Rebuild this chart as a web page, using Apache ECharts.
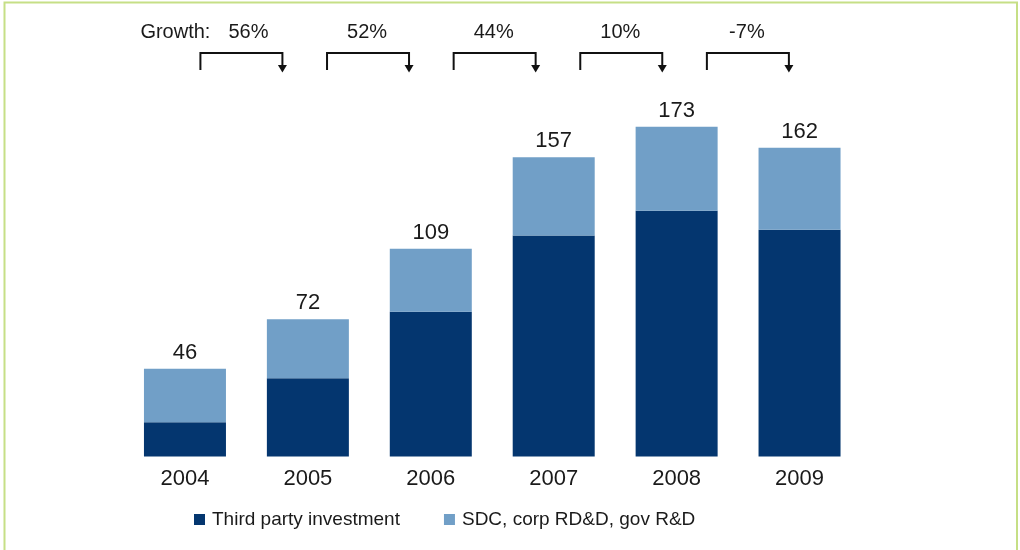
<!DOCTYPE html>
<html>
<head>
<meta charset="utf-8">
<script src="https://cdn.jsdelivr.net/npm/echarts@6/dist/echarts.min.js"></script>
<style>
html,body{margin:0;padding:0;background:#fff;}
#chart{width:1020px;height:550px;}
</style>
</head>
<body>
<div id="chart"></div>
<script>
var categories = ['2004', '2005', '2006', '2007', '2008', '2009'];
var thirdParty = [18, 41, 76, 116, 129, 119];
var sdcCorpGov = [28, 31, 33, 41, 44, 43];
var totals = [46, 72, 109, 157, 173, 162];
var growthLabels = ['56%', '52%', '44%', '10%', '-7%'];
var seriesNames = ['Third party investment', 'SDC, corp RD&D, gov R&D'];

var FONT = '"Liberation Sans", Arial, sans-serif';
var TEXT = '#1a1a1a';

var chart = echarts.init(document.getElementById('chart'), null, {renderer: 'canvas'});

var option = {
  backgroundColor: '#fff',
  animation: false,
  grid: {left: 123.5, width: 737.5, top: 113.5, bottom: 93.5},
  legend: {
    left: 194, top: 510, padding: 0,
    icon: 'rect', itemWidth: 11, itemHeight: 11, itemGap: 44,
    textStyle: {fontFamily: FONT, fontSize: 19, color: TEXT, padding: [0, 0, 0, 2]},
    data: seriesNames
  },
  xAxis: {
    type: 'category', data: categories,
    axisLine: {show: false}, axisTick: {show: false},
    axisLabel: {fontFamily: FONT, fontSize: 22, color: TEXT, margin: 11}
  },
  yAxis: {
    type: 'value', min: 0, max: 180,
    show: false, splitLine: {show: false}
  },
  series: [
    {
      name: seriesNames[0], type: 'bar', stack: 't', barWidth: 82,
      itemStyle: {color: '#04366f'},
      data: thirdParty
    },
    {
      name: seriesNames[1], type: 'bar', stack: 't', barWidth: 82,
      itemStyle: {color: '#719fc7'},
      label: {
        show: true, position: 'top', distance: 5,
        fontFamily: FONT, fontSize: 22, color: TEXT,
        formatter: function (p) { return String(totals[p.dataIndex]); }
      },
      data: sdcCorpGov
    }
  ]
};
chart.setOption(option);

function buildGraphics() {
  var g = [];
  // frame
  g.push({type: 'rect', shape: {x: 4.5, y: 2.5, width: 1012.5, height: 560},
    style: {fill: 'none', stroke: '#c6df86', lineWidth: 2}, silent: true});
  var yTop = 53, yBot = 70, yLabel = 32;
  var firstLeft = null;
  for (var i = 0; i < growthLabels.length; i++) {
    var a = chart.convertToPixel({xAxisIndex: 0}, i);
    var b = chart.convertToPixel({xAxisIndex: 0}, i + 1);
    var mid = (a + b) / 2 + (-5 + i * 3.7);
    var L = mid - 41, R = mid + 41;
    if (i === 0) firstLeft = L;
    g.push({type: 'polyline', shape: {points: [[L, yBot], [L, yTop], [R, yTop], [R, yBot - 4]]},
      style: {stroke: '#111', lineWidth: 2, fill: null}, silent: true});
    g.push({type: 'polygon', shape: {points: [[R - 4.5, yBot - 5], [R + 4.5, yBot - 5], [R, yBot + 2.5]]},
      style: {fill: '#111'}, silent: true});
    g.push({type: 'text', x: mid + (i === 0 ? 7 : -1), y: yLabel,
      style: {text: growthLabels[i], font: '20px ' + FONT, fill: TEXT, textAlign: 'center', textVerticalAlign: 'middle'},
      silent: true});
  }
  g.push({type: 'text', x: firstLeft + 10, y: yLabel,
    style: {text: 'Growth:', font: '20px ' + FONT, fill: TEXT, textAlign: 'right', textVerticalAlign: 'middle'},
    silent: true});
  chart.setOption({graphic: g});
}
buildGraphics();
</script>
</body>
</html>
